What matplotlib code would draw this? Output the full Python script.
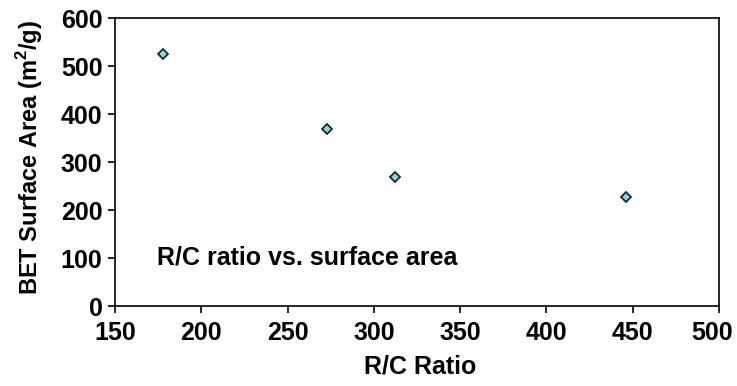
import matplotlib
matplotlib.use("Agg")
import matplotlib.pyplot as plt
from matplotlib.transforms import ScaledTranslation

# R/C ratio vs. BET surface area
rc_ratio = [178, 273, 312, 446]
surface_area = [526, 368, 269, 227]
x_ticks = [150, 200, 250, 300, 350, 400, 450, 500]
y_ticks = [0, 100, 200, 300, 400, 500, 600]

plt.rcParams["font.family"] = ["Liberation Sans", "DejaVu Sans"]
plt.rcParams["font.weight"] = "bold"
plt.rcParams["mathtext.fontset"] = "custom"
plt.rcParams["mathtext.bf"] = "Liberation Sans:bold"
plt.rcParams["mathtext.rm"] = "Liberation Sans:bold"

fig = plt.figure(figsize=(7.37, 3.86), dpi=100)
ax = fig.add_axes([115 / 737, 1 - 306 / 386, 604 / 737, 288 / 386])

ax.plot(rc_ratio, surface_area, linestyle="none", marker="D", markersize=5.5,
        markerfacecolor="#8fd4da", markeredgecolor="#1a2a2e", markeredgewidth=1.3)

ax.set_xlim(150, 500)
ax.set_ylim(0, 600)
ax.set_xticks(x_ticks)
ax.set_yticks(y_ticks)
ax.tick_params(direction="out", length=5, width=1.2, labelsize=18)
ax.tick_params(axis="x", pad=6)
ax.tick_params(axis="y", pad=4)
for s in ax.spines.values():
    s.set_linewidth(1.2)

# keep the last x tick label inside the figure
last = ax.get_xticklabels()[-1]
last.set_transform(last.get_transform() + ScaledTranslation(-7 / 100, 0, fig.dpi_scale_trans))

ax.set_xlabel("R/C Ratio", fontsize=18, fontweight="bold")
ax.xaxis.set_label_coords(0.505, -0.168)
ax.set_ylabel("BET Surface Area (m$^\\mathbf{2}$/g)", fontsize=17,
              fontweight="bold")
ax.yaxis.set_label_coords(-0.116, 0.517)
ax.text(0.07, 0.167, "R/C ratio vs. surface area", transform=ax.transAxes,
        fontsize=18, fontweight="bold", va="center", ha="left")

fig.savefig("out.png", dpi=100)
